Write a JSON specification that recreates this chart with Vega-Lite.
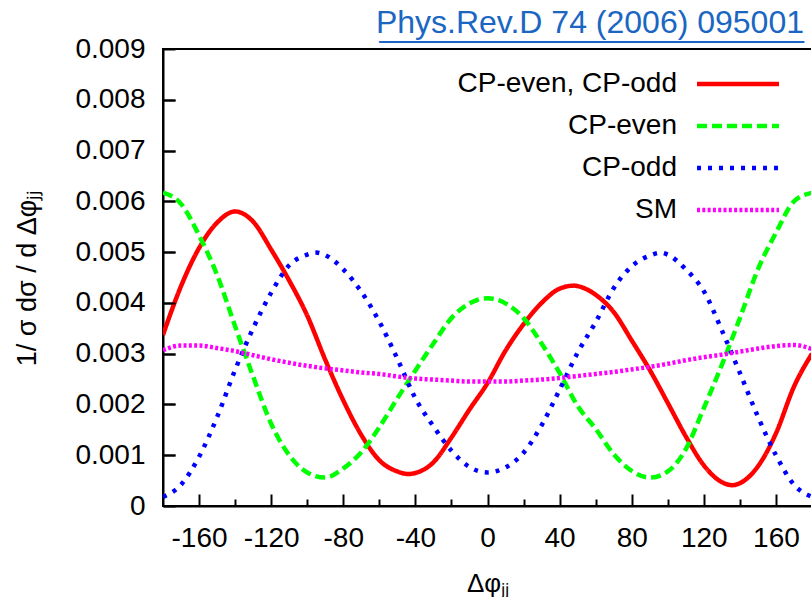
{
  "$schema": "https://vega.github.io/schema/vega-lite/v6.json",
  "width": 649,
  "height": 457,
  "autosize": {"type": "none"},
  "padding": {"left": 163, "top": 49, "right": 0, "bottom": 91},
  "background": "white",
  "title": {
    "text": "Phys.Rev.D 74 (2006) 095001",
    "subtitle": "________________________",
    "anchor": "end",
    "color": "#1a66c2",
    "subtitleColor": "#1a66c2",
    "font": "Liberation Sans",
    "subtitleFont": "Liberation Sans",
    "fontSize": 32,
    "subtitleFontSize": 31.8,
    "subtitlePadding": -28,
    "fontWeight": "normal",
    "offset": 4,
    "dx": -8,
    "dy": 14
  },
  "config": {
    "view": {"stroke": "black", "strokeWidth": 2},
    "axis": {
      "domainColor": "black",
      "domainWidth": 2,
      "tickColor": "black",
      "tickWidth": 2,
      "labelColor": "black",
      "labelFont": "Liberation Sans",
      "labelFontSize": 28,
      "titleFont": "Liberation Sans",
      "titleFontWeight": "normal",
      "titleColor": "black",
      "titleFontSize": 27,
      "grid": false
    },
    "legend": {
      "orient": "none",
      "legendX": 561,
      "legendY": 21,
      "direction": "vertical",
      "symbolType": "M-4,0H4",
      "symbolSize": 420,
      "symbolStrokeWidth": 4.5,
      "labelFont": "Liberation Sans",
      "labelFontSize": 28,
      "labelColor": "black",
      "labelAlign": "right",
      "labelOffset": -75,
      "labelLimit": 0,
      "rowPadding": 14
    }
  },
  "data": {
    "values": [
      {"p": -180, "v": 0.00337, "s": "CP-even, CP-odd"},
      {"p": -170, "v": 0.00433, "s": "CP-even, CP-odd"},
      {"p": -160, "v": 0.00508, "s": "CP-even, CP-odd"},
      {"p": -150, "v": 0.00558, "s": "CP-even, CP-odd"},
      {"p": -140, "v": 0.0058, "s": "CP-even, CP-odd"},
      {"p": -130, "v": 0.0056, "s": "CP-even, CP-odd"},
      {"p": -120, "v": 0.00505, "s": "CP-even, CP-odd"},
      {"p": -110, "v": 0.00444, "s": "CP-even, CP-odd"},
      {"p": -100, "v": 0.00375, "s": "CP-even, CP-odd"},
      {"p": -90, "v": 0.00288, "s": "CP-even, CP-odd"},
      {"p": -80, "v": 0.00208, "s": "CP-even, CP-odd"},
      {"p": -70, "v": 0.0014, "s": "CP-even, CP-odd"},
      {"p": -60, "v": 0.0009, "s": "CP-even, CP-odd"},
      {"p": -50, "v": 0.00068, "s": "CP-even, CP-odd"},
      {"p": -44, "v": 0.00063, "s": "CP-even, CP-odd"},
      {"p": -40, "v": 0.00065, "s": "CP-even, CP-odd"},
      {"p": -30, "v": 0.00086, "s": "CP-even, CP-odd"},
      {"p": -20, "v": 0.00135, "s": "CP-even, CP-odd"},
      {"p": -10, "v": 0.0019, "s": "CP-even, CP-odd"},
      {"p": 0, "v": 0.00242, "s": "CP-even, CP-odd"},
      {"p": 10, "v": 0.00306, "s": "CP-even, CP-odd"},
      {"p": 20, "v": 0.00358, "s": "CP-even, CP-odd"},
      {"p": 30, "v": 0.004, "s": "CP-even, CP-odd"},
      {"p": 40, "v": 0.00428, "s": "CP-even, CP-odd"},
      {"p": 48, "v": 0.00434, "s": "CP-even, CP-odd"},
      {"p": 50, "v": 0.00433, "s": "CP-even, CP-odd"},
      {"p": 60, "v": 0.00416, "s": "CP-even, CP-odd"},
      {"p": 70, "v": 0.00382, "s": "CP-even, CP-odd"},
      {"p": 80, "v": 0.00326, "s": "CP-even, CP-odd"},
      {"p": 90, "v": 0.00268, "s": "CP-even, CP-odd"},
      {"p": 100, "v": 0.00203, "s": "CP-even, CP-odd"},
      {"p": 110, "v": 0.00137, "s": "CP-even, CP-odd"},
      {"p": 120, "v": 0.0008, "s": "CP-even, CP-odd"},
      {"p": 130, "v": 0.00047, "s": "CP-even, CP-odd"},
      {"p": 136, "v": 0.00041, "s": "CP-even, CP-odd"},
      {"p": 140, "v": 0.00045, "s": "CP-even, CP-odd"},
      {"p": 150, "v": 0.00078, "s": "CP-even, CP-odd"},
      {"p": 160, "v": 0.00143, "s": "CP-even, CP-odd"},
      {"p": 170, "v": 0.00235, "s": "CP-even, CP-odd"},
      {"p": 180, "v": 0.003, "s": "CP-even, CP-odd"},

      {"p": -180, "v": 0.00617, "s": "CP-even"},
      {"p": -170, "v": 0.00595, "s": "CP-even"},
      {"p": -160, "v": 0.00533, "s": "CP-even"},
      {"p": -150, "v": 0.00455, "s": "CP-even"},
      {"p": -140, "v": 0.00354, "s": "CP-even"},
      {"p": -130, "v": 0.00255, "s": "CP-even"},
      {"p": -120, "v": 0.00162, "s": "CP-even"},
      {"p": -110, "v": 0.001, "s": "CP-even"},
      {"p": -100, "v": 0.00066, "s": "CP-even"},
      {"p": -90, "v": 0.00056, "s": "CP-even"},
      {"p": -80, "v": 0.00074, "s": "CP-even"},
      {"p": -70, "v": 0.00106, "s": "CP-even"},
      {"p": -60, "v": 0.00155, "s": "CP-even"},
      {"p": -50, "v": 0.00212, "s": "CP-even"},
      {"p": -40, "v": 0.00267, "s": "CP-even"},
      {"p": -30, "v": 0.0032, "s": "CP-even"},
      {"p": -20, "v": 0.0037, "s": "CP-even"},
      {"p": -10, "v": 0.00399, "s": "CP-even"},
      {"p": 0, "v": 0.00409, "s": "CP-even"},
      {"p": 10, "v": 0.00399, "s": "CP-even"},
      {"p": 20, "v": 0.0037, "s": "CP-even"},
      {"p": 30, "v": 0.0032, "s": "CP-even"},
      {"p": 40, "v": 0.00262, "s": "CP-even"},
      {"p": 50, "v": 0.00197, "s": "CP-even"},
      {"p": 60, "v": 0.00152, "s": "CP-even"},
      {"p": 70, "v": 0.00102, "s": "CP-even"},
      {"p": 80, "v": 0.00069, "s": "CP-even"},
      {"p": 90, "v": 0.00056, "s": "CP-even"},
      {"p": 100, "v": 0.00068, "s": "CP-even"},
      {"p": 110, "v": 0.00112, "s": "CP-even"},
      {"p": 120, "v": 0.00193, "s": "CP-even"},
      {"p": 130, "v": 0.00278, "s": "CP-even"},
      {"p": 140, "v": 0.0037, "s": "CP-even"},
      {"p": 150, "v": 0.00466, "s": "CP-even"},
      {"p": 160, "v": 0.00538, "s": "CP-even"},
      {"p": 170, "v": 0.006, "s": "CP-even"},
      {"p": 180, "v": 0.00617, "s": "CP-even"},

      {"p": -180, "v": 0.00018, "s": "CP-odd"},
      {"p": -170, "v": 0.00042, "s": "CP-odd"},
      {"p": -160, "v": 0.00097, "s": "CP-odd"},
      {"p": -150, "v": 0.00175, "s": "CP-odd"},
      {"p": -140, "v": 0.00268, "s": "CP-odd"},
      {"p": -130, "v": 0.0035, "s": "CP-odd"},
      {"p": -120, "v": 0.0042, "s": "CP-odd"},
      {"p": -110, "v": 0.00474, "s": "CP-odd"},
      {"p": -100, "v": 0.00495, "s": "CP-odd"},
      {"p": -95, "v": 0.00499, "s": "CP-odd"},
      {"p": -90, "v": 0.00494, "s": "CP-odd"},
      {"p": -80, "v": 0.00466, "s": "CP-odd"},
      {"p": -70, "v": 0.00422, "s": "CP-odd"},
      {"p": -60, "v": 0.00363, "s": "CP-odd"},
      {"p": -50, "v": 0.0029, "s": "CP-odd"},
      {"p": -40, "v": 0.00212, "s": "CP-odd"},
      {"p": -30, "v": 0.00157, "s": "CP-odd"},
      {"p": -20, "v": 0.00109, "s": "CP-odd"},
      {"p": -10, "v": 0.00077, "s": "CP-odd"},
      {"p": 0, "v": 0.00066, "s": "CP-odd"},
      {"p": 10, "v": 0.00076, "s": "CP-odd"},
      {"p": 20, "v": 0.00105, "s": "CP-odd"},
      {"p": 30, "v": 0.00159, "s": "CP-odd"},
      {"p": 40, "v": 0.00229, "s": "CP-odd"},
      {"p": 50, "v": 0.00302, "s": "CP-odd"},
      {"p": 60, "v": 0.00362, "s": "CP-odd"},
      {"p": 70, "v": 0.00429, "s": "CP-odd"},
      {"p": 80, "v": 0.00472, "s": "CP-odd"},
      {"p": 90, "v": 0.00493, "s": "CP-odd"},
      {"p": 96, "v": 0.00499, "s": "CP-odd"},
      {"p": 100, "v": 0.00495, "s": "CP-odd"},
      {"p": 110, "v": 0.00466, "s": "CP-odd"},
      {"p": 120, "v": 0.00423, "s": "CP-odd"},
      {"p": 130, "v": 0.00346, "s": "CP-odd"},
      {"p": 140, "v": 0.00262, "s": "CP-odd"},
      {"p": 150, "v": 0.00176, "s": "CP-odd"},
      {"p": 160, "v": 0.001, "s": "CP-odd"},
      {"p": 170, "v": 0.00042, "s": "CP-odd"},
      {"p": 180, "v": 0.00018, "s": "CP-odd"},

      {"p": -180, "v": 0.00307, "s": "SM"},
      {"p": -170, "v": 0.00316, "s": "SM"},
      {"p": -160, "v": 0.00316, "s": "SM"},
      {"p": -150, "v": 0.00311, "s": "SM"},
      {"p": -140, "v": 0.00305, "s": "SM"},
      {"p": -130, "v": 0.00297, "s": "SM"},
      {"p": -120, "v": 0.00289, "s": "SM"},
      {"p": -110, "v": 0.00282, "s": "SM"},
      {"p": -100, "v": 0.00276, "s": "SM"},
      {"p": -90, "v": 0.00271, "s": "SM"},
      {"p": -80, "v": 0.00267, "s": "SM"},
      {"p": -70, "v": 0.00263, "s": "SM"},
      {"p": -60, "v": 0.0026, "s": "SM"},
      {"p": -50, "v": 0.00255, "s": "SM"},
      {"p": -40, "v": 0.00251, "s": "SM"},
      {"p": -30, "v": 0.00249, "s": "SM"},
      {"p": -20, "v": 0.00247, "s": "SM"},
      {"p": -10, "v": 0.00245, "s": "SM"},
      {"p": 0, "v": 0.00245, "s": "SM"},
      {"p": 10, "v": 0.00245, "s": "SM"},
      {"p": 20, "v": 0.00247, "s": "SM"},
      {"p": 30, "v": 0.00249, "s": "SM"},
      {"p": 40, "v": 0.00252, "s": "SM"},
      {"p": 50, "v": 0.00256, "s": "SM"},
      {"p": 60, "v": 0.0026, "s": "SM"},
      {"p": 70, "v": 0.00264, "s": "SM"},
      {"p": 80, "v": 0.00269, "s": "SM"},
      {"p": 90, "v": 0.00274, "s": "SM"},
      {"p": 100, "v": 0.0028, "s": "SM"},
      {"p": 110, "v": 0.00287, "s": "SM"},
      {"p": 120, "v": 0.00293, "s": "SM"},
      {"p": 130, "v": 0.00298, "s": "SM"},
      {"p": 140, "v": 0.00304, "s": "SM"},
      {"p": 150, "v": 0.0031, "s": "SM"},
      {"p": 160, "v": 0.00315, "s": "SM"},
      {"p": 170, "v": 0.00317, "s": "SM"},
      {"p": 180, "v": 0.00309, "s": "SM"}
    ]
  },
  "layer": [
    {
      "mark": {"type": "line", "interpolate": "monotone", "strokeWidth": 4.5, "strokeCap": "butt", "clip": true},
      "encoding": {
        "x": {
          "field": "p", "type": "quantitative",
          "scale": {"domain": [-180, 180], "nice": false, "zero": false},
          "axis": {
            "orient": "bottom",
            "values": [-160, -120, -80, -40, 0, 40, 80, 120, 160],
            "labelExpr": "'' + datum.value",
            "tickSize": -12,
            "labelPadding": 30,
            "title": "Δφⱼⱼ",
            "titleFontSize": 26,
            "titlePadding": 18
          }
        },
        "y": {
          "field": "v", "type": "quantitative",
          "scale": {"domain": [0, 0.009], "nice": false},
          "axis": {
            "orient": "left",
            "ticks": false,
            "grid": true,
            "gridColor": "black",
            "gridWidth": 2,
            "gridDash": [12, 2000],
            "values": [0, 0.001, 0.002, 0.003, 0.004, 0.005, 0.006, 0.007, 0.008, 0.009],
            "labelExpr": "datum.value == 0 ? '0' : format(datum.value, '.3f')",
            "labelPadding": 18,
            "title": "1/ σ dσ / d Δφⱼⱼ",
            "titleX": -128,
            "titleBaseline": "alphabetic"
          }
        },
        "color": {
          "field": "s", "type": "nominal", "title": null,
          "scale": {"domain": ["CP-even, CP-odd", "CP-even", "CP-odd", "SM"], "range": ["#ff0000", "#00ff00", "#0000ff", "#ff00ff"]}
        },
        "strokeDash": {
          "field": "s", "type": "nominal", "title": null,
          "scale": {"domain": ["CP-even, CP-odd", "CP-even", "CP-odd", "SM"], "range": [[1, 0], [10, 5], [4, 7], [3, 2.3]]}
        },
        "detail": {"field": "s"}
      }
    },
    {
      "mark": {"type": "line", "opacity": 0},
      "encoding": {
        "x": {
          "field": "p", "type": "quantitative",
          "axis": {
            "orient": "bottom",
            "values": [-140, -100, -60, -20, 20, 60, 100, 140],
            "labels": false,
            "domain": false,
            "tickSize": -7,
            "title": null
          }
        },
        "y": {
          "field": "v", "type": "quantitative",
          "axis": {
            "orient": "left",
            "values": [0.001, 0.002, 0.003, 0.004, 0.005, 0.006, 0.007, 0.008],
            "labels": false,
            "domain": false,
            "offset": -12,
            "tickSize": 12,
            "zindex": 1,
            "title": null
          }
        },
        "detail": {"field": "s"}
      }
    }
  ],
  "resolve": {"axis": {"x": "independent", "y": "independent"}}
}
